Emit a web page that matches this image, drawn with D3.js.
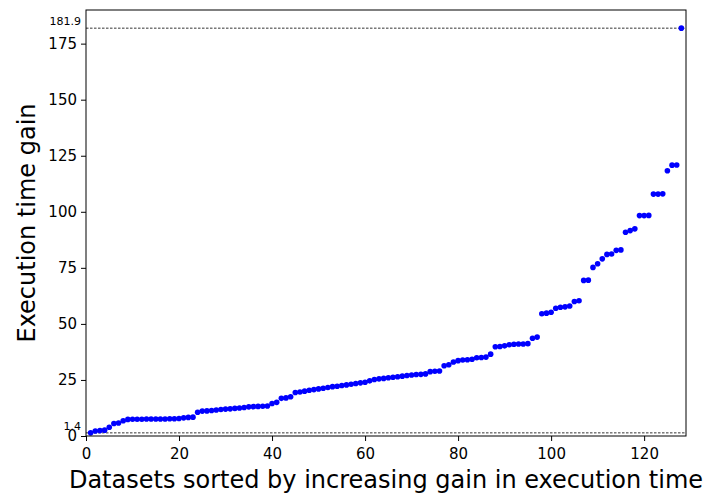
<!DOCTYPE html>
<html>
<head>
<meta charset="utf-8">
<script src="https://cdn.jsdelivr.net/npm/d3@7"></script>
<style>
  html, body { margin: 0; padding: 0; background: #fff; }
  svg { display: block; font-family: "DejaVu Sans", sans-serif; }
</style>
</head>
<body>
<svg id="chart" width="707" height="494"></svg>
<script>
// Gain in execution time per dataset, sorted ascending (dataset rank 1..128)
const gains = [
  1.4, 2.2, 2.4, 2.6, 3.9, 5.6, 5.8, 6.8, 7.4, 7.5,
  7.5, 7.5, 7.6, 7.6, 7.6, 7.6, 7.6, 7.7, 7.7, 7.8,
  8.1, 8.3, 8.4, 10.6, 11.1, 11.2, 11.4, 11.6, 11.8, 12.0,
  12.1, 12.3, 12.5, 12.7, 13.0, 13.1, 13.2, 13.3, 13.4, 14.5,
  15.0, 16.8, 17.0, 17.5, 19.4, 19.6, 20.0, 20.4, 20.7, 21.0,
  21.3, 21.6, 22.0, 22.2, 22.5, 22.8, 23.1, 23.4, 23.7, 24.0,
  24.6, 25.2, 25.5, 25.7, 26.0, 26.2, 26.4, 26.7, 27.0, 27.2,
  27.4, 27.5, 27.7, 28.7, 28.9, 29.0, 31.3, 31.8, 33.0, 33.6,
  33.9, 34.0, 34.2, 34.9, 35.0, 35.2, 36.5, 39.8, 39.9, 40.2,
  40.7, 40.9, 41.0, 41.0, 41.2, 43.6, 44.1, 54.5, 54.8, 55.2,
  57.0, 57.4, 57.6, 58.0, 60.0, 60.3, 69.4, 69.5, 75.2, 76.8,
  79.0, 81.0, 81.2, 82.8, 83.0, 90.9, 91.6, 92.4, 98.3, 98.3,
  98.4, 107.9, 107.9, 108.0, 118.3, 120.8, 120.9, 181.9
];
const ranks = gains.map((_, i) => i + 1);
const minGain = d3.min(gains);
const maxGain = d3.max(gains);

const xTicks = [0, 20, 40, 60, 80, 100, 120];
const yTicks = [0, 25, 50, 75, 100, 125, 150, 175];
const xDomain = [0, 129];
const yDomain = [0, 190];

const xLabel = "Datasets sorted by increasing gain in execution time";
const yLabel = "Execution time gain";

const svg = d3.select("#chart");
const margin = { left: 86, right: 21, top: 10, bottom: 58 };
const W = 707, H = 494;
const innerW = W - margin.left - margin.right;
const innerH = H - margin.top - margin.bottom;

const x = d3.scaleLinear().domain(xDomain).range([margin.left, margin.left + innerW]);
const y = d3.scaleLinear().domain(yDomain).range([margin.top + innerH, margin.top]);

svg.append("defs").append("clipPath").attr("id", "plot-clip")
  .append("rect")
  .attr("x", margin.left).attr("y", margin.top)
  .attr("width", innerW).attr("height", innerH);

const plot = svg.append("g").attr("clip-path", "url(#plot-clip)");

// reference lines at the minimum and maximum gain
[minGain, maxGain].forEach(v => {
  plot.append("line")
    .attr("x1", margin.left).attr("x2", margin.left + innerW)
    .attr("y1", y(v)).attr("y2", y(v))
    .attr("stroke", "#000").attr("stroke-width", 0.8)
    .attr("stroke-dasharray", "2.5,1.5");
});

plot.selectAll("circle.pt")
  .data(gains)
  .join("circle")
  .attr("class", "pt")
  .attr("cx", (d, i) => x(ranks[i]))
  .attr("cy", d => y(d))
  .attr("r", 2.8)
  .attr("fill", "#0000ff");

// axes
const xAxis = d3.axisBottom(x).tickValues(xTicks).tickSize(5).tickPadding(7).tickFormat(d3.format("d"));
const yAxis = d3.axisLeft(y).tickValues(yTicks).tickSize(5).tickPadding(4).tickFormat(d3.format("d"));

const gx = svg.append("g").attr("transform", `translate(0,${margin.top + innerH})`).call(xAxis);
const gy = svg.append("g").attr("transform", `translate(${margin.left},0)`).call(yAxis);
[gx, gy].forEach(g => {
  g.select(".domain").remove();
  g.selectAll(".tick line").attr("stroke", "#000").attr("stroke-width", 1);
  g.selectAll(".tick text").attr("fill", "#000")
    .style("font-family", "DejaVu Sans, sans-serif").style("font-size", "15px");
});

// frame
svg.append("rect")
  .attr("x", margin.left).attr("y", margin.top)
  .attr("width", innerW).attr("height", innerH)
  .attr("fill", "none").attr("stroke", "#000").attr("stroke-width", 1);

// value labels for the reference lines
[minGain, maxGain].forEach(v => {
  svg.append("text")
    .attr("x", margin.left - 5)
    .attr("y", y(v) - 3)
    .attr("text-anchor", "end")
    .style("font-size", "11px")
    .attr("fill", "#000")
    .text(v.toFixed(1));
});

// axis titles
svg.append("text")
  .attr("x", 386)
  .attr("y", H - 6)
  .attr("text-anchor", "middle")
  .style("font-size", "24px")
  .attr("fill", "#000")
  .text(xLabel);

svg.append("text")
  .attr("transform", `translate(35,${margin.top + innerH / 2}) rotate(-90)`)
  .attr("text-anchor", "middle")
  .style("font-size", "24px")
  .attr("fill", "#000")
  .text(yLabel);
</script>
</body>
</html>
